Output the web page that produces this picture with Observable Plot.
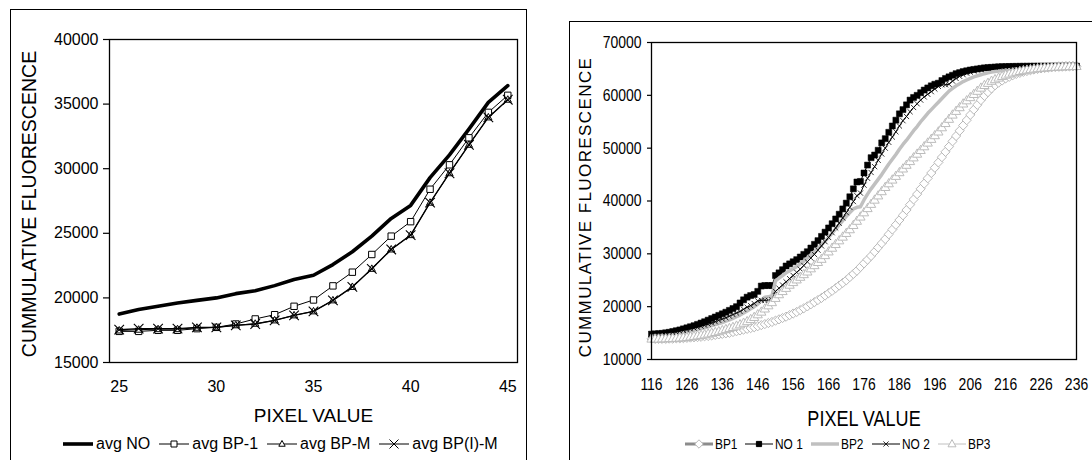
<!DOCTYPE html>
<html><head><meta charset="utf-8">
<script src="https://cdn.jsdelivr.net/npm/d3@7"></script>
<script src="https://cdn.jsdelivr.net/npm/@observablehq/plot@0.6"></script>
<style>
html,body{margin:0;padding:0;background:#fff;}
body{width:1092px;height:460px;overflow:hidden;position:relative;font-family:"Liberation Sans",Arial,sans-serif;}
.box{position:absolute;border:1px solid #000;box-sizing:border-box;}
#left,#right{position:absolute;top:0;}
#left{left:0;} #right{left:546px;}
.legend{position:absolute;display:flex;align-items:center;white-space:nowrap;color:#000;line-height:1;}
.legend .item{display:flex;align-items:center;}
.legend svg{display:block;}
.legend span{display:inline-block;}
</style></head><body>
<div class="box" style="left:10px;top:9px;width:517px;height:600px"></div>
<div class="box" style="left:569px;top:21px;width:600px;height:600px"></div>
<div id="left"></div><div id="right"></div>
<div class="legend" id="legL" style="left:63px;top:436px;font-size:16px"></div>
<div class="legend" id="legR" style="left:685px;top:437px;font-size:14.5px"></div>
<script>
// ---------- LEFT CHART DATA ----------
const leftPixel = [25,26,27,28,29,30,31,32,33,34,35,36,37,38,39,40,41,42,43,44,45];
const avgNO   = [18750,19100,19350,19600,19810,20000,20330,20560,20950,21420,21750,22580,23570,24780,26150,27160,29310,31070,33060,35130,36430];
const avgBP1  = [17410,17410,17490,17490,17620,17720,17980,18370,18700,19350,19840,20930,21990,23360,24780,25900,28410,30300,32390,34360,35680];
const avgBPM  = [17480,17540,17580,17580,17690,17720,17880,18000,18260,18650,18960,19810,20850,22250,23750,24860,27370,29650,31850,33970,35340];
const avgBPIM = [17540,17620,17620,17620,17720,17720,17870,17980,18260,18650,18960,19810,20850,22250,23750,24860,27370,29650,31850,33970,35340];
const leftXTicks = [25,30,35,40,45];
const leftYTicks = [15000,20000,25000,30000,35000,40000];

// ---------- RIGHT CHART DATA ----------
const rightPixel = [116,117,118,119,120,121,122,123,124,125,126,127,128,129,130,131,132,133,134,135,136,137,138,139,140,141,142,143,144,145,146,147,148,149,150,151,152,153,154,155,156,157,158,159,160,161,162,163,164,165,166,167,168,169,170,171,172,173,174,175,176,177,178,179,180,181,182,183,184,185,186,187,188,189,190,191,192,193,194,195,196,197,198,199,200,201,202,203,204,205,206,207,208,209,210,211,212,213,214,215,216,217,218,219,220,221,222,223,224,225,226,227,228,229,230,231,232,233,234,235,236];
const BP1 = [13900,13900,13900,13900,13900,13950,13950,14000,14000,14050,
 14100,14150,14200,14250,14300,14400,14450,14550,14650,14750,
 14850,14950,15050,15200,15350,15500,15650,15800,15950,16100,
 16300,16500,16700,16900,17100,17350,17600,17850,18100,18400,
 18700,19000,19350,19700,20050,20450,20850,21250,21650,22100,
 22550,23000,23500,24000,24500,25000,25600,26200,26800,27500,
 28200,28900,29600,30400,31200,32000,32800,33700,34600,35500,
 36400,37300,38300,39300,40300,41300,42300,43300,44300,45300,
 46300,47300,48300,49300,50300,51300,52300,53300,54300,55300,
 56300,57300,58200,59100,59900,60600,61300,61900,62400,62800,
 63200,63500,63800,64050,64250,64450,64600,64750,64880,65000,
 65100,65180,65250,65310,65360,65400,65430,65460,65480,65500,65510];
const NO1 = [14800,14850,14900,14950,15050,15150,15300,15450,15600,15800,
 16000,16200,16400,16650,16900,17150,17450,17750,18050,18350,
 18650,18950,19300,19650,20000,20700,21300,21800,22100,22300,
 22900,23900,24000,24000,24000,25900,26400,27000,27700,28100,
 28500,28900,29400,29900,30400,31100,31800,32500,33300,34100,
 34900,35700,36600,37500,38500,39600,40800,42300,43600,43700,
 45300,46800,48200,48700,49600,51000,51800,53000,54200,55300,
 56500,57300,58200,59100,59600,60000,60500,61000,61400,61800,
 62100,62300,62800,63200,63500,63800,64100,64300,64500,64650,
 64800,64900,65000,65100,65200,65250,65300,65350,65400,65420,
 65440,65460,65470,65480,65490,65500,65505,65510,65515,65520,
 65520,65525,65525,65530,65530,65530,65535,65535,65535,65535,65535];
const BP2 = [14500,14500,14550,14600,14650,14700,14800,14900,15000,15100,
 15250,15400,15550,15700,15850,16000,16200,16400,16600,16800,
 17000,17250,17500,17800,18100,18400,18800,19200,19600,20000,
 20500,21200,21800,21900,22000,24900,25400,25900,26400,26800,
 27200,27600,28100,28600,29200,29800,30400,31000,31700,32400,
 33100,33900,34700,35500,36300,37100,37800,38500,38800,38900,
 40200,41300,42300,43200,44100,45000,46000,47000,47900,48800,
 49800,50700,51500,52400,53300,54100,55000,55800,56600,57300,
 58000,58700,59400,60100,60800,61300,61800,62200,62600,62900,
 63200,63500,63700,63900,64100,64250,64400,64500,64600,64700,
 64780,64850,64920,64980,65040,65090,65140,65180,65220,65260,
 65290,65320,65350,65370,65390,65410,65430,65450,65460,65470,65480];
const NO2 = [14800,14800,14850,14900,14950,15000,15100,15200,15350,15500,
 15650,15800,15950,16100,16300,16500,16700,16900,17150,17400,
 17650,17900,18200,18500,18800,19100,19500,19900,20200,20600,
 21100,21200,21200,21200,21300,22900,23500,24100,24700,25300,
 25900,26500,27100,27800,28500,29200,29900,30700,31500,32300,
 33100,34000,34900,35800,36800,37800,38800,39900,41000,41500,
 43000,44300,45400,46500,47700,48900,50000,51100,52100,53100,
 54200,55200,56000,56900,57700,58400,59100,59700,60200,60700,
 61200,61700,62000,62000,62100,62700,63200,63600,63900,64200,
 64400,64600,64800,64950,65100,65200,65280,65340,65390,65420,
 65440,65460,65470,65480,65490,65500,65505,65510,65515,65520,
 65520,65525,65525,65530,65530,65530,65535,65535,65535,65535,65535];
const BP3 = [13900,13900,13900,13950,13950,14000,14000,14050,14100,14150,
 14200,14300,14400,14500,14600,14700,14850,15000,15150,15300,
 15500,15700,15900,16100,16350,16600,16900,17200,17600,18000,
 18500,19000,19600,20200,20800,21600,22300,22900,23500,24100,
 24600,25100,25600,26100,26600,27200,27800,28400,29000,29700,
 30400,31100,31800,32500,33200,33900,34600,35400,36200,37000,
 37800,38600,39400,40200,41000,41800,42600,43300,44000,44700,
 45400,46100,46800,47500,48200,48900,49600,50300,51000,51700,
 52400,53100,53900,54700,55500,56300,57000,57700,58400,59000,
 59600,60200,60800,61400,61900,62300,62700,63000,63300,63600,
 63850,64050,64250,64400,64550,64700,64800,64900,65000,65080,
 65150,65210,65260,65310,65350,65390,65420,65450,65470,65490,65500];
const rightXTicks = [116,126,136,146,156,166,176,186,196,206,216,226,236];
const rightYTicks = [10000,20000,30000,40000,50000,60000,70000];
const Y_TITLE = "CUMMULATIVE FLUORESCENCE";
const X_TITLE = "PIXEL VALUE";

// ---------- helpers ----------
const NARROW = 0.82;
const rows = (xs, ys) => xs.map((x, i) => ({x, y: ys[i]}));
const sym = f => ({draw(ctx, size) { f(ctx, Math.sqrt(size / Math.PI)); }});
const SQUARE = sym((c, r) => { c.moveTo(-r, -r); c.lineTo(r, -r); c.lineTo(r, r); c.lineTo(-r, r); c.closePath(); });
const TRI = sym((c, r) => { c.moveTo(0, -r * 1.1); c.lineTo(r, r * 0.7); c.lineTo(-r, r * 0.7); c.closePath(); });
const DIAM = sym((c, r) => { c.moveTo(0, -r); c.lineTo(r, 0); c.lineTo(0, r); c.lineTo(-r, 0); c.closePath(); });
const TIMES = sym((c, r) => { c.moveTo(-r, -r); c.lineTo(r, r); c.moveTo(r, -r); c.lineTo(-r, r); });
const fmt = d3.format("d");

// ---------- LEFT PLOT ----------
const L = {no: rows(leftPixel, avgNO), b1: rows(leftPixel, avgBP1), bm: rows(leftPixel, avgBPM), bim: rows(leftPixel, avgBPIM)};
const left = Plot.plot({
  width: 546, height: 430,
  marginLeft: 109, marginRight: 29, marginTop: 39, marginBottom: 68,
  x: {domain: [24.5, 45.5]},
  y: {domain: [15000, 40000]},
  style: {fontFamily: '"Liberation Sans", Arial, sans-serif', fontSize: "16px", background: "transparent", overflow: "visible", color: "#000"},
  marks: [
    Plot.axisX({ticks: leftXTicks, tickSize: 0, tickPadding: 18, tickFormat: fmt, label: null}),
    Plot.axisY({ticks: leftYTicks, tickSize: 6, tickPadding: 5, tickFormat: fmt, label: null, strokeWidth: 1.2}),
    Plot.line(L.no, {x: "x", y: "y", stroke: "#000", strokeWidth: 3.6}),
    Plot.line(L.b1, {x: "x", y: "y", stroke: "#000", strokeWidth: 1}),
    Plot.dot(L.b1, {x: "x", y: "y", symbol: SQUARE, r: 3.2, fill: "#fff", stroke: "#000", strokeWidth: 1}),
    Plot.line(L.bm, {x: "x", y: "y", stroke: "#000", strokeWidth: 1}),
    Plot.dot(L.bm, {x: "x", y: "y", symbol: TRI, r: 3.6, fill: "#fff", stroke: "#000", strokeWidth: 1}),
    Plot.line(L.bim, {x: "x", y: "y", stroke: "#000", strokeWidth: 1.4}),
    Plot.dot(L.bim, {x: "x", y: "y", symbol: TIMES, r: 4.8, fill: "none", stroke: "#000", strokeWidth: 1.1}),
    Plot.frame({stroke: "#000", strokeWidth: 1.3}),
    Plot.text([Y_TITLE], {text: d => d, frameAnchor: "left", dx: -80, dy: 3, rotate: -90, fontSize: 19.5, lineAnchor: "middle", textAnchor: "middle"}),
    Plot.text([X_TITLE], {text: d => d, frameAnchor: "bottom", dy: 53, fontSize: 19, lineAnchor: "middle", textAnchor: "middle"})
  ]
});
document.getElementById("left").appendChild(left);

// ---------- RIGHT PLOT ----------
const R = {bp1: rows(rightPixel, BP1), no1: rows(rightPixel, NO1), bp2: rows(rightPixel, BP2), no2: rows(rightPixel, NO2), bp3: rows(rightPixel, BP3)};
const right = Plot.plot({
  width: 546, height: 430,
  marginLeft: 105, marginRight: 16, marginTop: 42, marginBottom: 71,
  x: {domain: [116, 236]},
  y: {domain: [10000, 70000]},
  style: {fontFamily: '"Liberation Sans", Arial, sans-serif', fontSize: "17px", background: "transparent", overflow: "visible", color: "#000"},
  marks: [
    Plot.axisX({ticks: rightXTicks, tickSize: 0, tickPadding: 18, tickFormat: fmt, label: null}),
    Plot.axisY({ticks: rightYTicks, tickSize: 4, tickPadding: 6, tickFormat: fmt, label: null, strokeWidth: 1.2}),
    Plot.line(R.bp1, {x: "x", y: "y", stroke: "#8c8c8c", strokeWidth: 2.5}),
    Plot.dot(R.bp1, {x: "x", y: "y", symbol: DIAM, r: 4.6, fill: "#fff", stroke: "#b8b8b8", strokeWidth: 1}),
    Plot.line(R.no1, {x: "x", y: "y", stroke: "#000", strokeWidth: 1}),
    Plot.dot(R.no1, {x: "x", y: "y", symbol: SQUARE, r: 3, fill: "#000", stroke: "#000", strokeWidth: 0.5}),
    Plot.line(R.bp2, {x: "x", y: "y", stroke: "#c0c0c0", strokeWidth: 3.5}),
    Plot.line(R.no2, {x: "x", y: "y", stroke: "#000", strokeWidth: 1}),
    Plot.dot(R.no2, {x: "x", y: "y", symbol: TIMES, r: 2.6, fill: "none", stroke: "#000", strokeWidth: 0.8}),
    Plot.line(R.bp3, {x: "x", y: "y", stroke: "#c0c0c0", strokeWidth: 1}),
    Plot.dot(R.bp3, {x: "x", y: "y", symbol: TRI, r: 4.6, fill: "#fff", stroke: "#bcbcbc", strokeWidth: 1}),
    Plot.frame({stroke: "#000", strokeWidth: 1.3}),
    Plot.text([Y_TITLE], {text: d => d, frameAnchor: "left", dx: -66, dy: 6, rotate: -90, fontSize: 17, lineAnchor: "middle", textAnchor: "middle"}),
    Plot.text([X_TITLE], {text: d => d, frameAnchor: "bottom", dy: 59, fontSize: 22, lineAnchor: "middle", textAnchor: "middle"})
  ]
});
document.getElementById("right").appendChild(right);
// right chart: Arial-Narrow look for numbers/x title; spaced letters for the y title
right.querySelectorAll("text").forEach(t => {
  if (t.textContent === Y_TITLE) {
    t.style.letterSpacing = "1.4px";
    return;
  }
  const w = t.getComputedTextLength();
  t.setAttribute("textLength", (w * NARROW).toFixed(2));
  t.setAttribute("lengthAdjust", "spacingAndGlyphs");
});

// ---------- LEGENDS ----------
function swatch(w, line, marker) {
  const s = d3.create("svg").attr("width", w).attr("height", 14);
  s.append("line").attr("x1", 0).attr("x2", w).attr("y1", 7).attr("y2", 7)
    .attr("stroke", line.stroke).attr("stroke-width", line.width);
  if (marker) {
    s.append("path").attr("transform", `translate(${w / 2},7)`)
      .attr("d", d3.symbol().type(marker.symbol).size(marker.r * marker.r * Math.PI)())
      .attr("fill", marker.fill).attr("stroke", marker.stroke).attr("stroke-width", marker.sw || 1);
  }
  return s.node();
}
function legend(id, items, w, gapText, gapItem, squeeze) {
  const el = document.getElementById(id);
  items.forEach((it, i) => {
    const d = document.createElement("div");
    d.className = "item";
    d.style.marginRight = i < items.length - 1 ? gapItem + "px" : "0";
    d.appendChild(swatch(w, it.line, it.marker));
    const t = document.createElement("span");
    t.textContent = it.label;
    t.style.marginLeft = gapText + "px";
    d.appendChild(t);
    el.appendChild(d);
    if (squeeze) {
      const tw = t.getBoundingClientRect().width;
      t.style.transformOrigin = "left center";
      t.style.transform = `scaleX(${squeeze})`;
      t.style.marginRight = (-(1 - squeeze) * tw).toFixed(2) + "px";
    }
  });
}
legend("legL", [
  {label: "avg NO", line: {stroke: "#000", width: 3.6}},
  {label: "avg BP-1", line: {stroke: "#000", width: 1}, marker: {symbol: SQUARE, r: 3, fill: "#fff", stroke: "#000"}},
  {label: "avg BP-M", line: {stroke: "#000", width: 1}, marker: {symbol: TRI, r: 3.2, fill: "#fff", stroke: "#000"}},
  {label: "avg BP(I)-M", line: {stroke: "#000", width: 1}, marker: {symbol: TIMES, r: 4.5, fill: "none", stroke: "#000"}}
], 30, 3, 9, null);
legend("legR", [
  {label: "BP1", line: {stroke: "#8c8c8c", width: 3}, marker: {symbol: DIAM, r: 4.2, fill: "#fff", stroke: "#b8b8b8"}},
  {label: "NO 1", line: {stroke: "#000", width: 1}, marker: {symbol: SQUARE, r: 2.6, fill: "#000", stroke: "#000"}},
  {label: "BP2", line: {stroke: "#c0c0c0", width: 3.5}},
  {label: "NO 2", line: {stroke: "#000", width: 1}, marker: {symbol: TIMES, r: 2.6, fill: "none", stroke: "#000", sw: 0.8}},
  {label: "BP3", line: {stroke: "#c0c0c0", width: 1}, marker: {symbol: TRI, r: 4, fill: "#fff", stroke: "#bcbcbc"}}
], 28, 2, 8, NARROW);
</script>
</body></html>
